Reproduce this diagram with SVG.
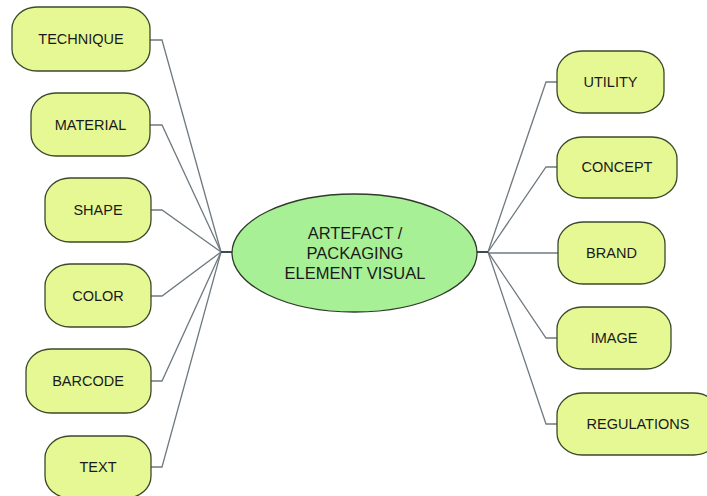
<svg xmlns="http://www.w3.org/2000/svg" width="707" height="496" viewBox="0 0 707 496">
<style>
.node rect{fill:#e6f893;stroke:#3a4a2a;stroke-width:1.3}
.node text{font-family:"Liberation Sans",Arial,sans-serif;font-size:14.5px;fill:#1a1a1a;text-anchor:middle;dominant-baseline:central}
.conn path{fill:none;stroke:#6f7a80;stroke-width:1.3}
.center ellipse{fill:#a8f095;stroke:#2f3a2a;stroke-width:1.3}
.center text{font-family:"Liberation Sans",Arial,sans-serif;font-size:16.5px;fill:#1a1a1a;text-anchor:middle;dominant-baseline:central}
</style>
<rect width="707" height="496" fill="#ffffff"/>
<g id="connectors" class="conn">
<path d="M150,40 H162 L221,252"/>
<path d="M150,125 H162 L221,252"/>
<path d="M151,210 H162 L221,252"/>
<path d="M151,296 H162 L221,252"/>
<path d="M151,381 H162 L221,252"/>
<path d="M151,467 H162 L221,252"/>
<path d="M221,252 H232" style="stroke:#3d4a50;stroke-width:2"/>
<path d="M557,82 H546 L488,252"/>
<path d="M557,167 H546 L488,252"/>
<path d="M558,253 H488"/>
<path d="M557,338 H546 L488,252"/>
<path d="M557,424 H546 L488,252"/>
<path d="M477,252 H488" style="stroke:#3d4a50;stroke-width:2"/>
</g>
<g id="center" class="center">
<ellipse cx="354.5" cy="253" rx="122.5" ry="59"/>
<text x="355" y="233">ARTEFACT /</text>
<text x="355" y="253">PACKAGING</text>
<text x="355" y="273">ELEMENT VISUAL</text>
</g>
<g id="technique" class="node"><rect x="12" y="7" width="138" height="64" rx="25" ry="22"/><text x="81" y="39">TECHNIQUE</text></g>
<g id="material" class="node"><rect x="31" y="93" width="119" height="63" rx="25" ry="22"/><text x="90.5" y="125">MATERIAL</text></g>
<g id="shape" class="node"><rect x="45" y="178" width="106" height="64" rx="25" ry="22"/><text x="98" y="210">SHAPE</text></g>
<g id="color" class="node"><rect x="45" y="264" width="106" height="63" rx="25" ry="22"/><text x="98" y="296">COLOR</text></g>
<g id="barcode" class="node"><rect x="26" y="349" width="125" height="64" rx="25" ry="22"/><text x="88" y="381">BARCODE</text></g>
<g id="text" class="node"><rect x="45" y="436" width="106" height="62" rx="25" ry="22"/><text x="98" y="467">TEXT</text></g>
<g id="utility" class="node"><rect x="557" y="51" width="107" height="62" rx="25" ry="22"/><text x="610.5" y="82">UTILITY</text></g>
<g id="concept" class="node"><rect x="557" y="137" width="120" height="61" rx="25" ry="22"/><text x="617" y="167">CONCEPT</text></g>
<g id="brand" class="node"><rect x="558" y="222" width="107" height="62" rx="25" ry="22"/><text x="611.5" y="253">BRAND</text></g>
<g id="image" class="node"><rect x="557" y="307" width="114" height="62" rx="25" ry="22"/><text x="614" y="338">IMAGE</text></g>
<g id="regulations" class="node"><rect x="557" y="393" width="162" height="62" rx="25" ry="22"/><text x="638" y="424">REGULATIONS</text></g>
</svg>
